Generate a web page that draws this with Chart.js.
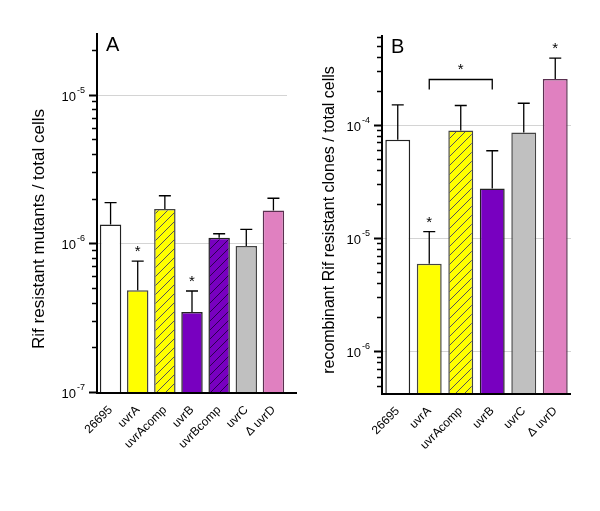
<!DOCTYPE html>
<html>
<head>
<meta charset="UTF-8">
<title>Rif resistance</title>
<script src="https://cdn.jsdelivr.net/npm/chart.js@4"></script>
<style>
  body { margin: 0; background: #fff; }
  #wrap { position: relative; width: 600px; height: 511px; }
  canvas { position: absolute; top: 0; }
  #chartA { left: 0; }
  #chartB { left: 300px; }
</style>
</head>
<body>
<div id="wrap">
  <canvas id="chartA" width="300" height="511"></canvas>
  <canvas id="chartB" width="300" height="511"></canvas>
</div>
<script>
// panel A: Rif resistant mutants / total cells
const labelsA = ['26695', 'uvrA', 'uvrAcomp', 'uvrB', 'uvrBcomp', 'uvrC', '\u0394 uvrD'];
const valuesA = [1.34e-6, 4.83e-7, 1.70e-6, 3.45e-7, 1.09e-6, 9.6e-7, 1.66e-6];
const errTopA = [1.88e-6, 7.6e-7, 2.09e-6, 4.78e-7, 1.16e-6, 1.24e-6, 2.01e-6];
const starsA = [false, true, false, true, false, false, false];

// panel B: recombinant Rif resistant clones / total cells
const labelsB = ['26695', 'uvrA', 'uvrAcomp', 'uvrB', 'uvrC', '\u0394 uvrD'];
const valuesB = [7.37e-5, 5.93e-6, 8.9e-5, 2.74e-5, 8.55e-5, 2.53e-4];
const errTopB = [1.50e-4, 1.14e-5, 1.48e-4, 5.9e-5, 1.55e-4, 3.88e-4];
const starsB = [false, true, false, false, false, true];
const bracketB = ['uvrA', 'uvrB'];

const FONT = 'Arial, "Liberation Sans", sans-serif';

function hatch(bg, line) {
    const c = document.createElement('canvas');
    c.width = 9; c.height = 9;
    const g = c.getContext('2d');
    g.fillStyle = bg;
    g.fillRect(0, 0, 9, 9);
    g.strokeStyle = line;
    g.lineWidth = 1;
    g.beginPath();
    g.moveTo(0, 9); g.lineTo(9, 0);
    g.moveTo(-1, 1); g.lineTo(1, -1);
    g.moveTo(8, 10); g.lineTo(10, 8);
    g.stroke();
    return g.createPattern(c, 'repeat');
}

const style = {
    '26695': ['#ffffff', '#222222'],
    'uvrA': ['#ffff00', '#444444'],
    'uvrAcomp': [hatch('#ffff00', '#555555'), '#444444'],
    'uvrB': ['#7800c0', '#222222'],
    'uvrBcomp': [hatch('#7800c0', '#2a0050'), '#222222'],
    'uvrC': ['#c0c0c0', '#444444'],
    '\u0394 uvrD': ['#e080c0', '#5a3050']
};

const decor = {
    id: 'decor',
    beforeDatasetsDraw(chart) {
        const { ctx, chartArea: a, scales: { y } } = chart;
        ctx.save();
        ctx.strokeStyle = '#d4d4d4';
        ctx.lineWidth = 1;
        for (let e = -9; e <= 0; e++) {
            const v = Math.pow(10, e);
            if (v <= y.min * 1.01 || v > y.max) continue;
            const py = Math.round(y.getPixelForValue(v)) + 0.5;
            ctx.beginPath();
            ctx.moveTo(a.left, py);
            ctx.lineTo(a.right, py);
            ctx.stroke();
        }
        ctx.restore();
    },
    afterDatasetsDraw(chart, args, opts) {
        const { ctx, chartArea: a, scales: { y } } = chart;
        const bars = chart.getDatasetMeta(0).data;
        ctx.save();

        // error bars (upper only) and stars
        ctx.strokeStyle = '#000';
        ctx.fillStyle = '#000';
        ctx.lineWidth = 1.3;
        ctx.font = '15px ' + FONT;
        ctx.textAlign = 'center';
        ctx.textBaseline = 'alphabetic';
        bars.forEach((bar, i) => {
            const top = y.getPixelForValue(opts.err[i]);
            ctx.beginPath();
            ctx.moveTo(bar.x, bar.y);
            ctx.lineTo(bar.x, top);
            ctx.moveTo(bar.x - 6, top);
            ctx.lineTo(bar.x + 6, top);
            ctx.stroke();
            if (opts.stars[i]) ctx.fillText('*', bar.x, top - 5);
        });

        // significance bracket
        if (opts.bracket) {
            const labels = chart.data.labels;
            const i0 = labels.indexOf(opts.bracket[0]);
            const i1 = labels.indexOf(opts.bracket[1]);
            let hi = Infinity;
            for (let i = i0; i <= i1; i++) hi = Math.min(hi, y.getPixelForValue(opts.err[i]));
            const x0 = bars[i0].x, x1 = bars[i1].x;
            ctx.beginPath();
            ctx.moveTo(x0, hi - 16);
            ctx.lineTo(x0, hi - 26);
            ctx.lineTo(x1, hi - 26);
            ctx.lineTo(x1, hi - 16);
            ctx.stroke();
            ctx.fillText('*', (x0 + x1) / 2, hi - 32);
        }

        // axes
        ctx.lineWidth = 2;
        ctx.beginPath();
        ctx.moveTo(a.left, a.top);
        ctx.lineTo(a.left, a.bottom + 1);
        ctx.lineTo(a.right + (opts.extend || 0), a.bottom + 1);
        ctx.stroke();

        // log ticks and labels
        for (let e = -9; e <= 0; e++) {
            for (let m = 1; m <= 9; m++) {
                const v = m * Math.pow(10, e);
                if (v < y.min * 0.999 || v > y.max) continue;
                const py = Math.round(y.getPixelForValue(v)) + 0.5;
                const major = m === 1;
                ctx.lineWidth = major ? 2 : 1.5;
                ctx.beginPath();
                ctx.moveTo(a.left, py);
                ctx.lineTo(a.left - (major ? 8 : 5), py);
                ctx.stroke();
                if (major) {
                    const sup = String(e);
                    ctx.font = '9px ' + FONT;
                    const ws = ctx.measureText(sup).width;
                    ctx.textAlign = 'left';
                    ctx.textBaseline = 'alphabetic';
                    const right = a.left - 12;
                    ctx.fillText(sup, right - ws, py - 3);
                    ctx.font = '13px ' + FONT;
                    const wb = ctx.measureText('10').width;
                    ctx.fillText('10', right - ws - wb - 1, py + 5);
                }
            }
        }

        // y axis title
        ctx.save();
        ctx.translate(opts.titleX, opts.titleY);
        ctx.rotate(-Math.PI / 2);
        ctx.font = opts.titleSize + 'px ' + FONT;
        ctx.textAlign = 'center';
        ctx.textBaseline = 'middle';
        ctx.fillText(opts.title, 0, 0);
        ctx.restore();

        // panel letter
        ctx.font = '20px ' + FONT;
        ctx.textAlign = 'left';
        ctx.textBaseline = 'alphabetic';
        ctx.fillText(opts.letter, a.left + 9, a.top + 18);
        ctx.restore();
    }
};

function makeChart(id, labels, values, err, stars, o) {
    return new Chart(document.getElementById(id), {
        type: 'bar',
        data: {
            labels: labels,
            datasets: [{
                data: values,
                backgroundColor: labels.map(l => style[l][0]),
                borderColor: labels.map(l => style[l][1]),
                borderWidth: 1.5,
                borderSkipped: 'bottom',
                categoryPercentage: 1,
                barPercentage: 0.79
            }]
        },
        options: {
            responsive: false,
            devicePixelRatio: 1,
            animation: false,
            layout: { padding: { top: o.top, right: o.right, left: 0, bottom: 0 } },
            plugins: {
                legend: { display: false },
                tooltip: { enabled: false },
                decor: {
                    err: err, stars: stars, bracket: o.bracket, letter: o.letter, extend: o.extend,
                    title: o.title, titleX: o.titleX, titleY: o.titleY, titleSize: o.titleSize
                }
            },
            scales: {
                x: {
                    grid: { display: false, drawTicks: false },
                    border: { display: false },
                    ticks: {
                        autoSkip: false, minRotation: 45, maxRotation: 45, padding: 11,
                        color: '#000', font: { family: FONT, size: 12 }
                    },
                    afterFit: s => { s.height = o.xh; }
                },
                y: {
                    type: 'logarithmic',
                    min: o.min,
                    max: o.max,
                    grid: { display: false },
                    border: { display: false },
                    ticks: { display: false },
                    afterFit: s => { s.width = o.yw; }
                }
            }
        },
        plugins: [decor]
    });
}

makeChart('chartA', labelsA, valuesA, errTopA, starsA, {
    top: 33, right: 13, xh: 119, yw: 97, min: 1e-7, max: 2.6e-5,
    title: 'Rif resistant mutants / total cells', titleX: 39, titleY: 229, titleSize: 17,
    letter: 'A', extend: 10
});
makeChart('chartB', labelsB, valuesB, errTopB, starsB, {
    top: 35, right: 29, xh: 118, yw: 82, min: 4.3e-7, max: 6.2e-4,
    title: 'recombinant Rif resistant clones / total cells', titleX: 30, titleY: 220, titleSize: 16,
    letter: 'B', bracket: bracketB, extend: 0
});
</script>
</body>
</html>
